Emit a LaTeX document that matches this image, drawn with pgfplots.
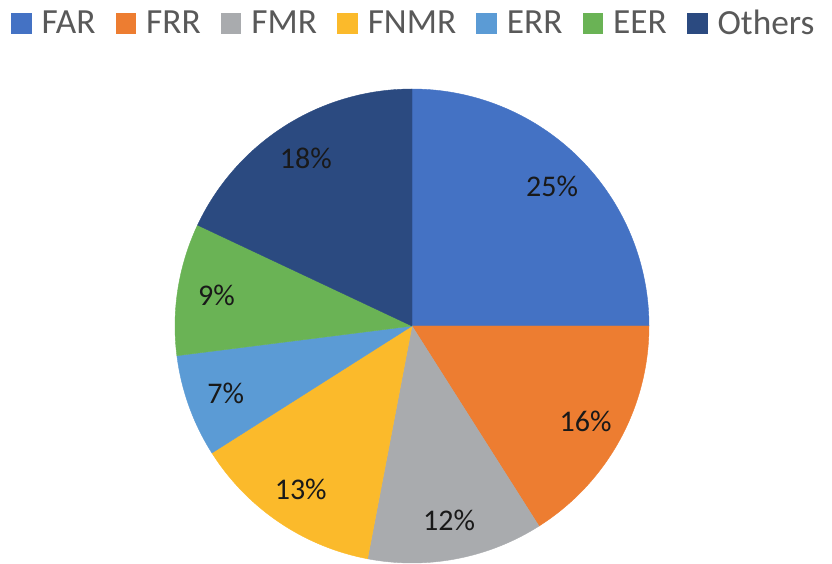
\documentclass[border=0pt]{standalone}
\usepackage{pgfplots}
\pgfplotsset{compat=1.18}
\usepackage{fontspec}
\setmainfont{Carlito}
\definecolor{cFAR}{HTML}{4472C4}
\definecolor{cFRR}{HTML}{ED7D31}
\definecolor{cFMR}{HTML}{A9ABAE}
\definecolor{cFNMR}{HTML}{FBBA2B}
\definecolor{cERR}{HTML}{5B9BD5}
\definecolor{cEER}{HTML}{6AB355}
\definecolor{cOth}{HTML}{2B4A80}
\definecolor{legtext}{HTML}{595959}
% slice: #1 cumulative start (percent), #2 value (percent), #3 colour, #4 legend name
\newcommand{\slice}[4]{%
  \addplot[fill=#3, draw=#3, line width=0.3pt, domain={90-3.6*(#1+#2)}:{90-3.6*(#1)}, samples=80, smooth=false]
    ({412+237*cos(x)},{238+237*sin(x)}) -- (axis cs:412,238) -- cycle;
  \addlegendentry{#4}
  \node[font=\fontsize{22.5}{26}\selectfont, text=black!90] at (axis cs:{412+198*cos(90-3.6*(#1+#2/2))},{238+198*sin(90-3.6*(#1+#2/2))}) {#2\%};
}
\begin{document}
\begin{tikzpicture}
\begin{axis}[
  scale only axis, width=624pt, height=423pt,
  xmin=0, xmax=832, ymin=0, ymax=564,
  hide axis, clip=false,
  legend columns=-1,
  legend style={at={(axis cs:11,540.5)}, anchor=west, draw=none, fill=none,
    font=\fontsize{26.5}{32}\selectfont, text=legtext,
    inner sep=0pt, outer sep=0pt,
    nodes={inner sep=0pt, outer sep=0pt},
    /tikz/every even column/.append style={column sep=15pt},
    /tikz/every odd column/.append style={column sep=7.5pt}},
  legend cell align=left,
  legend image code/.code={\fill[#1, draw=none] (0pt,-7.7pt) rectangle (15.5pt,7.7pt);},
]
\path (axis cs:0,0) rectangle (axis cs:832,564);
\slice{0}{25}{cFAR}{FAR}
\slice{25}{16}{cFRR}{FRR}
\slice{41}{12}{cFMR}{FMR}
\slice{53}{13}{cFNMR}{FNMR}
\slice{66}{7}{cERR}{ERR}
\slice{73}{9}{cEER}{EER}
\slice{82}{18}{cOth}{Others}
\end{axis}
\end{tikzpicture}
\end{document}
